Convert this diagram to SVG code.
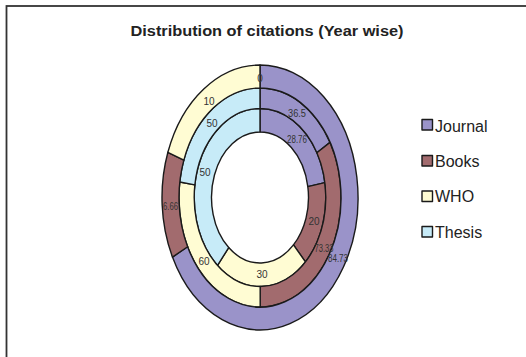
<svg xmlns="http://www.w3.org/2000/svg" width="526" height="357" viewBox="0 0 526 357">
<style>
.s{stroke:#1a1a1a;stroke-width:1.4;stroke-linejoin:round}
.j{fill:#9a93c9}.b{fill:#a26b6e}.w{fill:#fffcd3}.t{fill:#c7ebf8}
.lb{font-family:"Liberation Sans",Arial,sans-serif;font-size:10px;fill:#333;text-anchor:middle}
.lg{font-family:"Liberation Sans",Arial,sans-serif;font-size:16px;fill:#222}
.ttl{font-family:"Liberation Sans",Arial,sans-serif;font-size:14px;font-weight:bold;fill:#222;text-anchor:middle}
</style>
<rect x="0" y="0" width="526" height="357" fill="#fff"/>
<rect x="6.5" y="6" width="540" height="380" fill="none" stroke="#333" stroke-width="1.8"/>
<text class="ttl" x="267" y="36" textLength="273" lengthAdjust="spacingAndGlyphs">Distribution of citations (Year wise)</text>
<g id="connectors"></g>
<g id="ring-inner">
<path class="s j" d="M 260,108.5 A 65.8 89 0 0 1 324.88,182.67 L 307.82,186.59 A 48.5 65.5 0 0 0 260,132 Z"/>
<path class="s b" d="M 324.88,182.67 A 65.8 89 0 0 1 305.43,261.89 L 293.48,244.89 A 48.5 65.5 0 0 0 307.82,186.59 Z"/>
<path class="s w" d="M 305.43,261.89 A 65.8 89 0 0 1 217.53,265.48 L 228.70,247.53 A 48.5 65.5 0 0 0 293.48,244.89 Z"/>
<path class="s t" d="M 217.53,265.48 A 65.8 89 0 0 1 260,108.5 L 260,132 A 48.5 65.5 0 0 0 228.70,247.53 Z"/>
</g>
<g id="ring-middle">
<path class="s j" d="M 260,88 A 81 109.5 0 0 1 330.01,142.42 L 316.87,152.73 A 65.8 89 0 0 0 260,108.5 Z"/>
<path class="s b" d="M 330.01,142.42 A 81 109.5 0 0 1 260.20,307 L 260.16,286.5 A 65.8 89 0 0 0 316.87,152.73 Z"/>
<path class="s w" d="M 260.20,307 A 81 109.5 0 0 1 179.81,182.03 L 194.86,184.93 A 65.8 89 0 0 0 260.16,286.5 Z"/>
<path class="s t" d="M 179.81,182.03 A 81 109.5 0 0 1 260,88 L 260,108.5 A 65.8 89 0 0 0 194.86,184.93 Z"/>
</g>
<g id="ring-outer">
<path class="s j" d="M 260,65 A 98 132.5 0 1 1 172.46,257.05 L 187.64,246.71 A 81 109.5 0 1 0 260,88 Z"/>
<path class="s b" d="M 172.46,257.05 A 98 132.5 0 0 1 167.88,152.29 L 183.86,160.14 A 81 109.5 0 0 0 187.64,246.71 Z"/>
<path class="s w" d="M 167.88,152.29 A 98 132.5 0 0 1 260,65 L 260,88 A 81 109.5 0 0 0 183.86,160.14 Z"/>
</g>
<g id="labels">
<text class="lb" x="260" y="82">0</text>
<text class="lb" x="209" y="105">10</text>
<text class="lb" x="212" y="127">50</text>
<text class="lb" x="297" y="117" textLength="18" lengthAdjust="spacingAndGlyphs">36.5</text>
<text class="lb" x="297" y="143" textLength="20" lengthAdjust="spacingAndGlyphs">28.76</text>
<text class="lb" x="205" y="176">50</text>
<text class="lb" x="170.5" y="210" textLength="15" lengthAdjust="spacingAndGlyphs">6.66</text>
<text class="lb" x="314" y="225">20</text>
<text class="lb" x="324" y="252" textLength="19" lengthAdjust="spacingAndGlyphs">73.33</text>
<text class="lb" x="338" y="262" textLength="20" lengthAdjust="spacingAndGlyphs">84.73</text>
<text class="lb" x="204" y="265">60</text>
<text class="lb" x="262" y="278">30</text>
</g>
<g id="legend">
<g id="legend-journal"><rect class="s j" x="422" y="119.5" width="10.5" height="10.5"/><text class="lg" x="435" y="131.5">Journal</text></g>
<g id="legend-books"><rect class="s b" x="422" y="155.5" width="10.5" height="10.5"/><text class="lg" x="435" y="167">Books</text></g>
<g id="legend-who"><rect class="s w" x="422" y="191" width="10.5" height="10.5"/><text class="lg" x="435" y="202">WHO</text></g>
<g id="legend-thesis"><rect class="s t" x="422" y="226.5" width="10.5" height="10.5"/><text class="lg" x="435" y="238">Thesis</text></g>
</g>
</svg>
